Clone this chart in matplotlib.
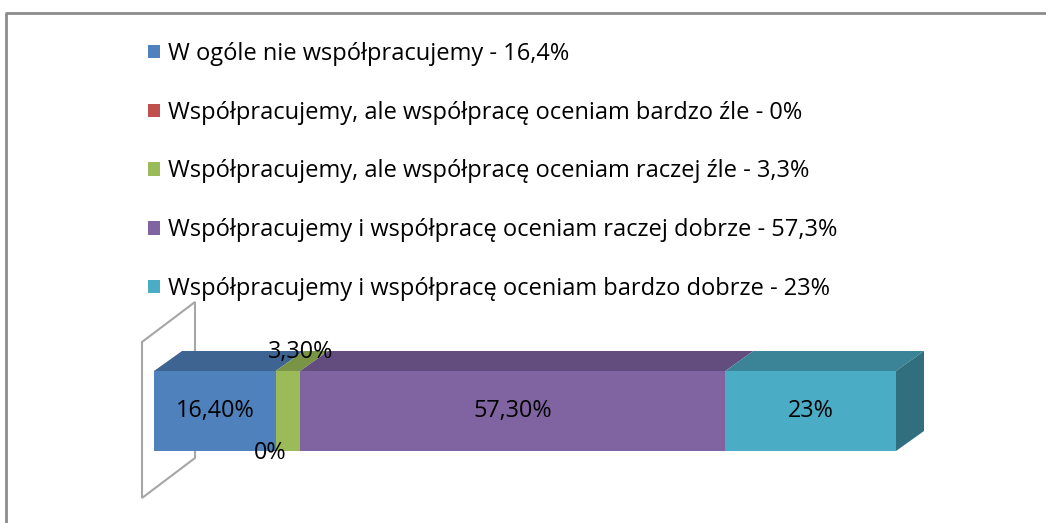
import matplotlib
matplotlib.use("Agg")
import matplotlib.pyplot as plt
from matplotlib.patches import Polygon, Patch
from matplotlib.lines import Line2D

# data
categories = [
    "W ogóle nie współpracujemy",
    "Współpracujemy, ale współpracę oceniam bardzo źle",
    "Współpracujemy, ale współpracę oceniam raczej źle",
    "Współpracujemy i współpracę oceniam raczej dobrze",
    "Współpracujemy i współpracę oceniam bardzo dobrze",
]
values = [16.4, 0, 3.3, 57.3, 23]

FRONT = ["#4F81BD", "#C0504D", "#9BBB59", "#8064A2", "#4BACC6"]
TOP = ["#3E6592", "#963F3D", "#7A9446", "#634D7F", "#3B8497"]
SIDE = "#316F7E"
WALL = "#A6A6A6"
FONT = "Open Sans"

plt.rcParams["font.family"] = [FONT, "DejaVu Sans"]


def pct_short(v):
    s = f"{v:g}".replace(".", ",")
    return s + "%"


def pct_label(v):
    if float(v).is_integer():
        return f"{int(v)}%"
    return f"{v:.2f}".replace(".", ",") + "%"


W, H = 1046, 523
fig = plt.figure(figsize=(W / 100, H / 100), dpi=100)
ax = fig.add_axes([0, 0, 1, 1])

# x in percent, y in pixel-like units (0 at top)
x0_px, px_per_pct = 154, 7.42
ax.set_xlim(-x0_px / px_per_pct, (W - x0_px) / px_per_pct)
ax.set_ylim(H, 0)
ax.axis("off")

bar_top, bar_bot = 371, 451
dx, dy = 28 / px_per_pct, -20

# back wall
wall_x, wall_dx = -12 / px_per_pct, 53 / px_per_pct
wall = Polygon([(wall_x, 498), (wall_x, 342), (wall_x + wall_dx, 302),
                (wall_x + wall_dx, 458)], closed=True, facecolor="white",
               edgecolor=WALL, lw=1.5, zorder=1)
ax.add_patch(wall)

starts = []
s = 0
for v in values:
    starts.append(s)
    s += v
total = s

# top faces
for st, v, c in zip(starts, values, TOP):
    if v == 0:
        continue
    ax.add_patch(Polygon([(st, bar_top), (st + v, bar_top),
                          (st + v + dx, bar_top + dy), (st + dx, bar_top + dy)],
                         closed=True, facecolor=c, edgecolor="none", zorder=2))
# front faces
for st, v, c in zip(starts, values, FRONT):
    if v == 0:
        continue
    ax.add_patch(Polygon([(st, bar_top), (st + v, bar_top),
                          (st + v, bar_bot), (st, bar_bot)],
                         closed=True, facecolor=c, edgecolor="none", zorder=3))
# right side
ax.add_patch(Polygon([(total, bar_top), (total + dx, bar_top + dy),
                      (total + dx, bar_bot + dy), (total, bar_bot)],
                     closed=True, facecolor=SIDE, edgecolor="none", zorder=3))

# data labels
mid = (bar_top + bar_bot) / 2
lab_fs = 16.8
for st, v in zip(starts, values):
    lab = pct_label(v)
    if v == 0:
        ax.text(st - 6 / px_per_pct, bar_bot + 2, lab, ha="center", va="center",
                fontsize=lab_fs, zorder=5)
    elif v < 5:
        ax.text(st + v, bar_top - 19, lab, ha="center", va="center",
                fontsize=lab_fs, zorder=5)
    else:
        ax.text(st + v / 2, mid, lab, ha="center", va="center",
                fontsize=lab_fs, zorder=5)

# legend
handles = [Patch(facecolor=c, edgecolor="none") for c in FRONT]
labels = [f"{c} - {pct_short(v)}" for c, v in zip(categories, values)]
fig.legend(handles, labels, loc="upper left", bbox_to_anchor=(148 / W, 1 - 42 / H),
           frameon=False, fontsize=17, handlelength=0.51, handleheight=0.51,
           handletextpad=0.33, labelspacing=1.47, borderaxespad=0, borderpad=0)

# outer frame
fig.add_artist(Line2D([6 / W, 6 / W, 1], [0, 1 - 13 / H, 1 - 13 / H],
                      color="#8C8C8C", lw=2, transform=fig.transFigure))

fig.savefig("out.png", dpi=100, facecolor="white")
